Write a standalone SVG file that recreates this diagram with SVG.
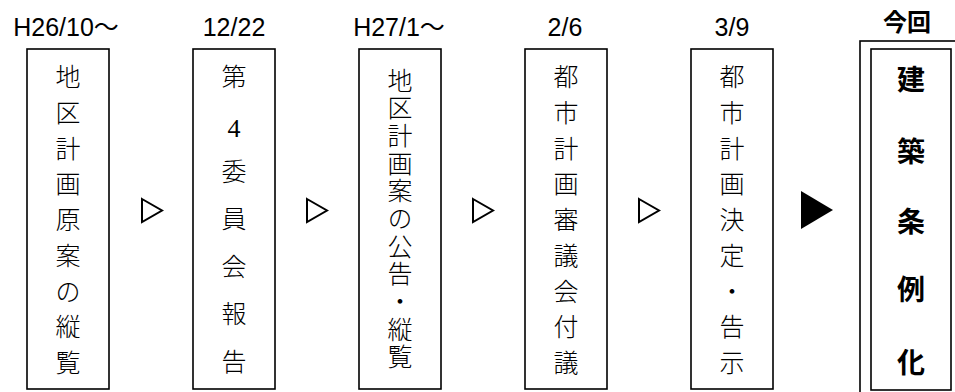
<svg xmlns="http://www.w3.org/2000/svg" width="955" height="392" viewBox="0 0 955 392">
<defs>
<style>
.bx{fill:#fff;stroke:#000;stroke-width:1.6}
.lbl{font-family:"Liberation Sans","Noto Sans CJK JP",sans-serif;font-size:25px;fill:#000;text-anchor:middle}
.cjk{font-family:"Noto Sans CJK JP",sans-serif;font-size:25px;font-weight:300;fill:#000;text-anchor:middle}
.vert{font-family:"Noto Sans CJK JP",sans-serif;font-size:25px;font-weight:300;fill:#000;writing-mode:vertical-rl;text-orientation:upright;letter-spacing:2.7px}
.bold{font-family:"Noto Sans CJK JP",sans-serif;font-size:28px;font-weight:700;fill:#000;text-anchor:middle}
.tri{fill:#fff;stroke:#000;stroke-width:2;stroke-linejoin:miter}
</style>
</defs>
<rect width="955" height="392" fill="#fff"/>

<g id="labels">
<text class="lbl" x="66" y="36">H26/10〜</text>
<text class="lbl" x="234" y="36">12/22</text>
<text class="lbl" x="399" y="36">H27/1〜</text>
<text class="lbl" x="565" y="36">2/6</text>
<text class="lbl" x="732" y="36">3/9</text>
<text x="907" y="31" style="font-family:'Noto Sans CJK JP',sans-serif;font-size:24px;font-weight:700;text-anchor:middle">今回</text>
</g>

<g id="node1">
<rect class="bx" x="27" y="49" width="82" height="340"/>
<text class="cjk">
<tspan x="68" y="86">地</tspan><tspan x="68" y="122">区</tspan><tspan x="68" y="158">計</tspan><tspan x="68" y="193">画</tspan><tspan x="68" y="229">原</tspan><tspan x="68" y="265">案</tspan><tspan x="68" y="301">の</tspan><tspan x="68" y="336">縦</tspan><tspan x="68" y="372">覧</tspan>
</text>
</g>

<g id="node2">
<rect class="bx" x="193" y="49" width="82" height="340"/>
<text class="cjk">
<tspan x="234" y="86">第</tspan><tspan x="234" y="181">委</tspan><tspan x="234" y="228">員</tspan><tspan x="234" y="276">会</tspan><tspan x="234" y="323">報</tspan><tspan x="234" y="371">告</tspan>
</text>
<text x="234" y="137" style="font-family:'Liberation Serif',serif;font-size:26px;text-anchor:middle">4</text>
</g>

<g id="node3">
<rect class="bx" x="359" y="49" width="82" height="340"/>
<text class="vert" x="400" y="67.5">地区計画案の公告・縦覧</text>
</g>

<g id="node4">
<rect class="bx" x="525" y="49" width="82" height="340"/>
<text class="cjk">
<tspan x="566" y="86">都</tspan><tspan x="566" y="122">市</tspan><tspan x="566" y="158">計</tspan><tspan x="566" y="193">画</tspan><tspan x="566" y="229">審</tspan><tspan x="566" y="265">議</tspan><tspan x="566" y="301">会</tspan><tspan x="566" y="336">付</tspan><tspan x="566" y="372">議</tspan>
</text>
</g>

<g id="node5">
<rect class="bx" x="691" y="49" width="82" height="340"/>
<text class="cjk">
<tspan x="732" y="86">都</tspan><tspan x="732" y="122">市</tspan><tspan x="732" y="158">計</tspan><tspan x="732" y="193">画</tspan><tspan x="732" y="229">決</tspan><tspan x="732" y="265">定</tspan><tspan x="732" y="301">・</tspan><tspan x="732" y="336">告</tspan><tspan x="732" y="372">示</tspan>
</text>
</g>

<g id="node6">
<rect class="bx" x="860" y="41" width="120" height="370"/>
<rect class="bx" x="871" y="49" width="80" height="341"/>
<text class="bold">
<tspan x="911" y="90">建</tspan><tspan x="911" y="162">築</tspan><tspan x="911" y="232">条</tspan><tspan x="911" y="300">例</tspan><tspan x="911" y="373">化</tspan>
</text>
</g>

<g id="connectors">
<polygon class="tri" points="142,199 162,210.5 142,222"/>
<polygon class="tri" points="307,199 327,210.5 307,222"/>
<polygon class="tri" points="473,199 493,210.5 473,222"/>
<polygon class="tri" points="639,199 659,210.5 639,222"/>
<polygon points="801,191 833,210 801,229" fill="#000"/>
</g>
</svg>
